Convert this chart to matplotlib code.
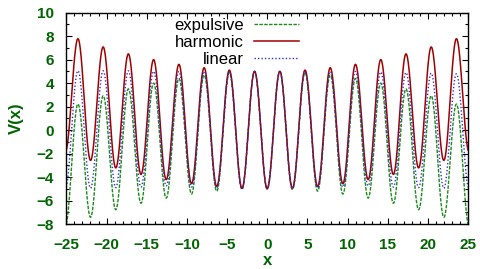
import numpy as np
import matplotlib
matplotlib.use("Agg")
import matplotlib.pyplot as plt
from matplotlib.ticker import MultipleLocator

# positions of the turning points (troughs at multiples of pi, peaks between)
x_ext = [-25.13, -23.56, -21.99, -20.42, -18.85, -17.28, -15.71, -14.14,
         -12.57, -10.99, -9.42, -7.85, -6.28, -4.71, -3.14, -1.57, 0.0,
         1.57, 3.14, 4.71, 6.28, 7.85, 9.42, 10.99, 12.57, 14.14, 15.71,
         17.28, 18.85, 20.42, 21.99, 23.56, 25.13]

# values read at those turning points
harmonic = [-1.84, 7.78, -2.58, 7.08, -3.22, 6.49, -3.77, 6.0,
            -4.21, 5.6, -4.56, 5.31, -4.8, 5.11, -4.95, 5.01, -5.0,
            5.01, -4.95, 5.11, -4.8, 5.31, -4.56, 5.6, -4.21, 6.0, -3.77,
            6.49, -3.22, 7.08, -2.58, 7.78, -1.84]
expulsive = [-8.16, 2.22, -7.42, 2.92, -6.78, 3.51, -6.23, 4.0,
             -5.79, 4.4, -5.44, 4.69, -5.2, 4.89, -5.05, 4.99, -5.0,
             4.99, -5.05, 4.89, -5.2, 4.69, -5.44, 4.4, -5.79, 4.0, -6.23,
             3.51, -6.78, 2.92, -7.42, 2.22, -8.16]
linear = [-5.0, 5.05, -4.95, 5.05, -4.9, 5.05, -4.85, 5.0,
          -4.75, 5.0, -4.85, 5.0, -4.95, 5.0, -5.0, 5.0, -5.0,
          5.0, -5.0, 5.0, -4.95, 5.0, -4.85, 5.0, -4.75, 4.95, -4.85,
          4.9, -4.9, 4.85, -4.95, 4.8, -5.0]


def smooth(xs, vs, n=40):
    # draw each half wave between two turning points as a half cosine
    xx, yy = [], []
    for i in range(len(xs) - 1):
        t = np.linspace(0, 1, n, endpoint=False)
        xx.append(xs[i] + (xs[i + 1] - xs[i]) * t)
        yy.append(vs[i] + (vs[i + 1] - vs[i]) * (1 - np.cos(np.pi * t)) / 2)
    xx.append([xs[-1]])
    yy.append([vs[-1]])
    return np.concatenate(xx), np.concatenate(yy)


green = "#006400"
fig = plt.figure(figsize=(4.81, 2.69), dpi=100)
ax = fig.add_axes([0.138, 0.167, 0.835, 0.786])

xe, ye = smooth(x_ext, expulsive)
xh, yh = smooth(x_ext, harmonic)
xl, yl = smooth(x_ext, linear)
ax.plot(xe, ye, color="#1a8a1a", ls=(0, (2.5, 1)), lw=1.0, label="expulsive")
ax.plot(xh, yh, color="#a00000", ls="-", lw=1.1, label="harmonic")
ax.plot(xl, yl, color="#3030d0", ls=(0, (1, 1.5)), lw=1.0, label="linear")

ax.set_xlim(-25, 25)
ax.set_ylim(-8, 10)
ax.xaxis.set_major_locator(MultipleLocator(5))
ax.xaxis.set_minor_locator(MultipleLocator(1))
ax.yaxis.set_major_locator(MultipleLocator(2))
ax.yaxis.set_minor_locator(MultipleLocator(1))
ax.tick_params(which="both", direction="in", top=True, right=True, width=0.8)
ax.tick_params(which="major", length=4, labelsize=11, labelcolor=green)
ax.tick_params(axis="x", which="major", pad=10)
ax.tick_params(axis="y", which="major", pad=9)
ax.tick_params(which="minor", length=2)
for lab in ax.get_xticklabels() + ax.get_yticklabels():
    lab.set_fontfamily("Liberation Sans")
    lab.set_fontweight("bold")
for s in ax.spines.values():
    s.set_linewidth(1.0)

ax.set_xlabel("x", color=green, fontsize=12, fontweight="bold",
              family="Liberation Sans", labelpad=1)
ax.set_ylabel("V(x)", color=green, fontsize=12, fontweight="bold",
              family="Liberation Sans", labelpad=9)

leg = ax.legend(loc="upper right", bbox_to_anchor=(0.617, 1.045), frameon=False,
                markerfirst=False, handlelength=2.7, handletextpad=0.6,
                labelspacing=0.12, prop={"family": "Liberation Sans", "size": 12})
for t in leg.get_texts():
    t.set_ha("right")

fig.savefig("out.png", dpi=100)
